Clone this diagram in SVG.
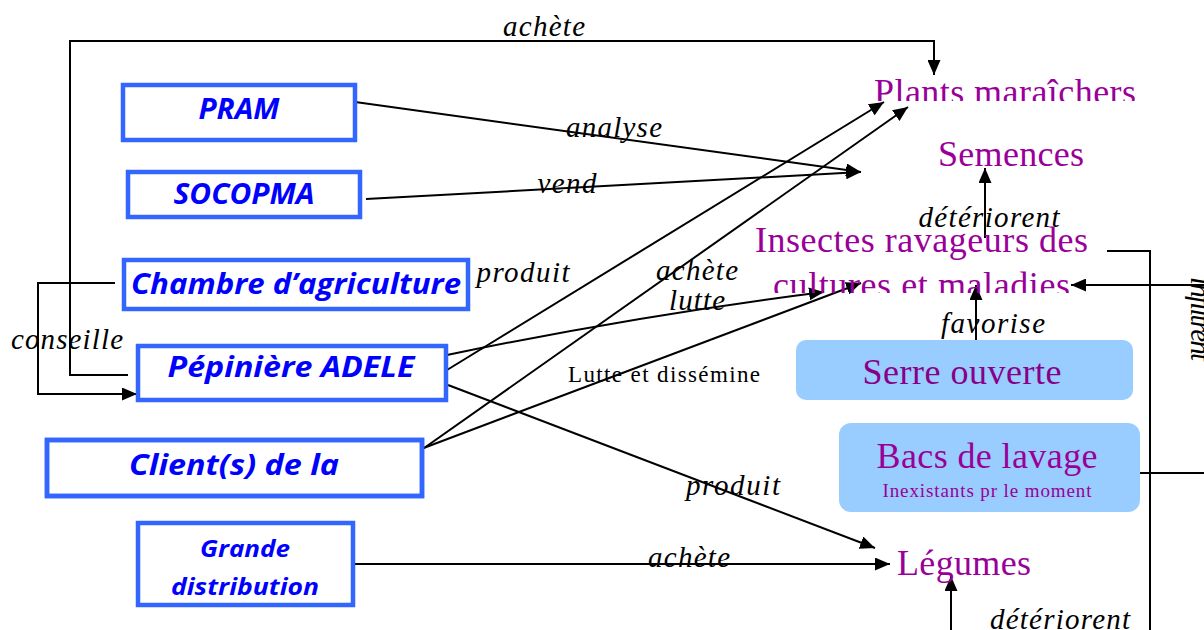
<svg xmlns="http://www.w3.org/2000/svg" width="1204" height="630" viewBox="0 0 1204 630">
<style>
.box{fill:#fff;stroke:#3366ff;stroke-width:4.5}
.bt{font-family:"Open Sans","DejaVu Sans",sans-serif;font-weight:bold;font-style:italic;fill:#0000ff;text-anchor:middle}
.pt{font-family:"Liberation Serif","Times New Roman",serif;fill:#990099;font-size:36px}
.rb{fill:#99ccff;stroke:none}
.lb{font-family:"Liberation Serif","Times New Roman",serif;font-style:italic;fill:#000;font-size:29px;text-anchor:middle}
.c{fill:none;stroke:#000;stroke-width:2}
</style>
<defs>
<marker id="ah" markerUnits="userSpaceOnUse" markerWidth="15" markerHeight="13" refX="15" refY="6.5" orient="auto">
<path d="M0,0 L15,6.5 L0,13 z" fill="#000"/>
</marker>
<clipPath id="clipPlants"><rect x="860" y="60" width="300" height="41"/></clipPath>
<clipPath id="clipCult"><rect x="740" y="262" width="360" height="31"/></clipPath>
<clipPath id="clipClient"><rect x="45" y="438" width="380" height="58"/></clipPath>
</defs>

<g id="connectors">
<polyline class="c" points="128,375 70,375 70,41 934,41 934,75" marker-end="url(#ah)"/>
<line class="c" x1="348" y1="101" x2="861" y2="172" marker-end="url(#ah)"/>
<line class="c" x1="366" y1="199" x2="861" y2="172" marker-end="url(#ah)"/>
<polyline class="c" points="115,283 38,283 38,394 137,394" marker-end="url(#ah)"/>
<line class="c" x1="447" y1="370" x2="884" y2="102" marker-end="url(#ah)"/>
<line class="c" x1="400" y1="465" x2="908" y2="107" marker-end="url(#ah)"/>
<path class="c" d="M447,355 Q640,315 824,292" marker-end="url(#ah)"/>
<line class="c" x1="421" y1="449" x2="861" y2="283" marker-end="url(#ah)"/>
<line class="c" x1="448" y1="385" x2="875" y2="548" marker-end="url(#ah)"/>
<line class="c" x1="355" y1="564" x2="890" y2="564" marker-end="url(#ah)"/>
<line class="c" x1="985" y1="238" x2="985" y2="168" marker-end="url(#ah)"/>
<line class="c" x1="976" y1="340" x2="976" y2="285" marker-end="url(#ah)"/>
<polyline class="c" points="1107,251 1150,251 1150,630"/>
<line class="c" x1="1204" y1="285" x2="1071" y2="285" marker-end="url(#ah)"/>
<line class="c" x1="1140" y1="473" x2="1204" y2="473"/>
<line class="c" x1="951" y1="630" x2="951" y2="576" marker-end="url(#ah)"/>
</g>

<g id="labels">
<text class="lb" x="544" y="36" textLength="82">achète</text>
<text class="lb" x="614" y="137" textLength="96">analyse</text>
<text class="lb" x="567" y="193" textLength="59">vend</text>
<text class="lb" x="523" y="282" textLength="93">produit</text>
<text class="lb" x="67" y="349" textLength="112">conseille</text>
<text class="lb" x="697" y="280" textLength="82">achète</text>
<text class="lb" x="697" y="310" textLength="56">lutte</text>
<text x="664" y="382" font-family="Liberation Serif,Times New Roman,serif" font-size="23" textLength="192" text-anchor="middle">Lutte et dissémine</text>
<text class="lb" x="733" y="495" textLength="94">produit</text>
<text class="lb" x="689" y="567" textLength="82">achète</text>
<text class="lb" x="989" y="227" textLength="141">détériorent</text>
<text class="lb" x="993" y="333" textLength="104">favorise</text>
<text class="lb" x="1060" y="629" textLength="140">détériorent</text>
<text class="lb" x="0" y="0" font-size="27" text-anchor="start" textLength="84" transform="translate(1191,319) rotate(90)">infiltrent</text>
</g>

<g id="pram">
<rect class="box" x="123" y="85" width="232" height="55"/>
<text class="bt" x="239" y="119" font-size="29" textLength="81" lengthAdjust="spacingAndGlyphs">PRAM</text>
</g>
<g id="socopma">
<rect class="box" x="128" y="172" width="232" height="45"/>
<text class="bt" x="244" y="204" font-size="28" textLength="141" lengthAdjust="spacingAndGlyphs">SOCOPMA</text>
</g>
<g id="chambre">
<rect class="box" x="124" y="260" width="344" height="49"/>
<text class="bt" x="296" y="294" font-size="28" textLength="330" lengthAdjust="spacingAndGlyphs">Chambre d’agriculture</text>
</g>
<g id="pepiniere">
<rect class="box" x="138" y="346" width="308" height="54"/>
<text class="bt" x="291" y="377" font-size="29" textLength="247" lengthAdjust="spacingAndGlyphs">Pépinière ADELE</text>
</g>
<g id="client">
<rect class="box" x="47" y="440" width="375" height="56"/>
<g clip-path="url(#clipClient)">
<text class="bt" x="234" y="475" font-size="29" textLength="210" lengthAdjust="spacingAndGlyphs">Client(s) de la</text>
<text class="bt" x="234" y="518" font-size="29">pépinière</text>
</g>
<rect x="47" y="440" width="375" height="56" fill="none" stroke="#3366ff" stroke-width="4.5"/>
</g>
<g id="grande">
<rect class="box" x="138" y="523" width="215" height="82"/>
<text class="bt" x="245" y="557" font-size="24" textLength="90" lengthAdjust="spacingAndGlyphs">Grande</text>
<text class="bt" x="245" y="595" font-size="24" textLength="148" lengthAdjust="spacingAndGlyphs">distribution</text>
</g>

<g id="plants">
<text class="pt" x="874" y="104" textLength="262" clip-path="url(#clipPlants)">Plants maraîchers</text>
</g>
<g id="semences">
<text class="pt" x="938" y="166" textLength="146">Semences</text>
</g>
<g id="insectes">
<text class="pt" x="755" y="252" textLength="333">Insectes ravageurs des</text>
<text class="pt" x="773" y="297" textLength="297" clip-path="url(#clipCult)">cultures et maladies</text>
</g>
<g id="serre">
<rect class="rb" x="796" y="340" width="337" height="60" rx="10"/>
<text class="pt" x="962" y="384" text-anchor="middle" fill="#880088" style="fill:#880088" textLength="199">Serre ouverte</text>
</g>
<g id="bacs">
<rect class="rb" x="839" y="423" width="301" height="89" rx="12"/>
<text class="pt" x="987" y="468" text-anchor="middle" textLength="221">Bacs de lavage</text>
<text class="pt" x="987" y="497" text-anchor="middle" style="font-size:19px" textLength="209">Inexistants pr le moment</text>
</g>
<g id="legumes">
<text class="pt" x="897" y="575" textLength="134">Légumes</text>
</g>
</svg>
